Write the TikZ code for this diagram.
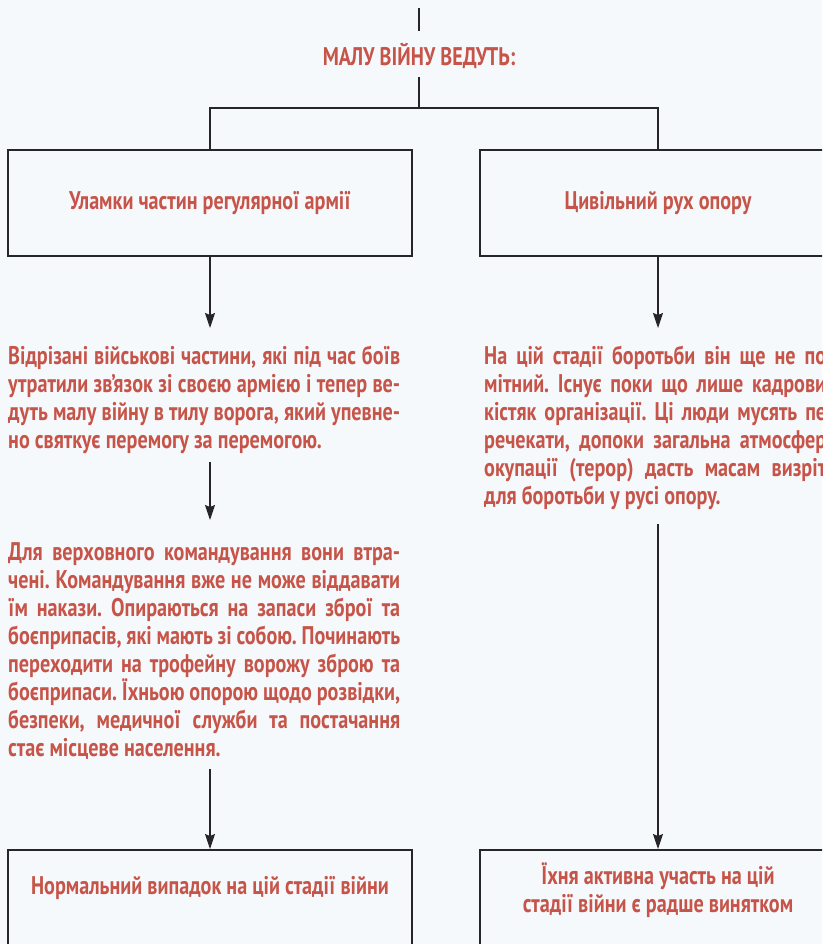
\documentclass[tikz,border=0pt]{standalone}
\usepackage{fontspec}
\setmainfont{PT Sans}[FakeStretch=0.79]
\usetikzlibrary{arrows.meta,positioning}
\definecolor{paperblue}{RGB}{246,249,252}
\definecolor{headred}{RGB}{198,84,72}
\definecolor{rulegray}{RGB}{38,38,40}
\tolerance=10000
\frenchspacing

\begin{document}
\begin{tikzpicture}[
  x=1pt, y=1pt,
  txt/.style={text=headred, font=\fontsize{25.5}{28}\selectfont\bfseries},
  box/.style={draw=rulegray, line width=1.5pt, txt, align=center},
  para/.style={txt, align=justify, inner sep=0pt, anchor=north west},
  line/.style={draw=rulegray, line width=1.3pt},
  arrow/.style={line, -{Stealth[length=15pt, width=10pt, inset=2pt]}}
]
\useasboundingbox (0,0) rectangle (822,-944);
\clip (0,0) rectangle (822,-944);
\fill[paperblue] (0,0) rectangle (822,-944);

% heading and fork
\coordinate (topend) at (419,-8);
\coordinate (fork) at (419,-108);
\node[txt, inner sep=0pt] (heading) at (419,-56) {МАЛУ ВІЙНУ ВЕДУТЬ:};

% the two groups
\node[box, minimum width=404, minimum height=106] (fragments) at (210,-203)
  {Уламки частин регулярної армії};
\node[box, minimum width=356, minimum height=106] (civil) at (658,-203)
  {Цивільний рух опору};

% left column
\node[para, text width=392] (cutoff) at (8,-346)
  {Відрізані військові частини, які під час боїв\linebreak
   утратили зв’язок зі своєю армією і тепер ве-\linebreak
   дуть малу війну в тилу ворога, який упевне-\linebreak
   но святкує перемогу за перемогою.};
\node[para, text width=392] (lost) at (8,-542)
  {Для верховного командування вони втра-\linebreak
   чені. Командування вже не може віддавати\linebreak
   їм накази. Опираються на запаси зброї та\linebreak
   боєприпасів, які мають зі собою. Починають\linebreak
   переходити на трофейну ворожу зброю та\linebreak
   боєприпаси. Їхньою опорою щодо розвідки,\linebreak
   безпеки, медичної служби та постачання\linebreak
   стає місцеве населення.};
\node[box, minimum width=404, minimum height=110, anchor=north] (normal)
  at (210,-849) {};
\node[txt] (normaltext) at (210,-888)
  {Нормальний випадок на цій стадії війни};

% right column
\node[para, text width=342] (stage) at (484,-346)
  {На цій стадії боротьби він ще не по\linebreak
   мітний. Існує поки що лише кадрови\linebreak
   кістяк організації. Ці люди мусять пе\linebreak
   речекати, допоки загальна атмосфер\linebreak
   окупації (терор) дасть масам визріт\linebreak
   для боротьби у русі опору.};
\node[box, minimum width=356, minimum height=110, anchor=north] (rare)
  at (658,-849) {};
\node[txt, align=center] (raretext) at (658,-890)
  {Їхня активна участь на цій\\стадії війни є радше винятком};

% connectors
\draw[line, shorten >=12pt] (topend) -- (heading.north);
\draw[line, shorten <=8pt] (heading.south) -- (fork);
\draw[line] (fragments.north) |- (fork) -| (civil.north);
\draw[arrow, shorten >=18pt] (fragments.south) -- (fragments.south |- cutoff.north);
\draw[arrow, shorten <=8pt, shorten >=22pt] (fragments.south |- cutoff.south)
  -- (fragments.south |- lost.north);
\draw[arrow, shorten <=10pt] (fragments.south |- lost.south) -- (normal.north);
\draw[arrow, shorten >=18pt] (civil.south) -- (civil.south |- stage.north);
\draw[arrow, shorten <=14pt] (civil.south |- stage.south) -- (rare.north);
\end{tikzpicture}
\end{document}
